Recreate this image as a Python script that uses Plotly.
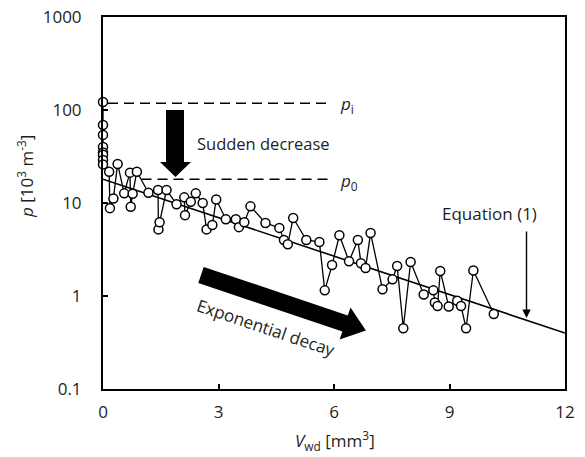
import math
import plotly.graph_objects as go

# measured data: V_wd [mm3] vs p [10^3 m^-3]
v_wd = [0, 0, 0, 0, 0, 0, 0, 0,
        0.16, 0.18, 0.27, 0.38, 0.55, 0.70, 0.72, 0.77, 0.88, 1.18,
        1.43, 1.44, 1.47, 1.65, 1.91, 2.11, 2.13, 2.28, 2.41, 2.59,
        2.69, 2.84, 2.94, 3.19, 3.45, 3.53, 3.67, 3.83, 4.22, 4.58,
        4.70, 4.80, 4.94, 5.28, 5.62, 5.76, 5.95, 6.14, 6.39, 6.62,
        6.70, 6.82, 6.95, 7.26, 7.52, 7.64, 7.80, 7.99, 8.33, 8.58,
        8.62, 8.69, 8.76, 8.98, 9.20, 9.30, 9.43, 9.62, 10.15]
p_meas = [122, 69, 54, 40, 35, 33, 29, 26,
          21.7, 8.8, 11.2, 26.3, 12.7, 21.2, 9.1, 12.6, 21.7, 12.9,
          13.8, 5.2, 6.2, 13.8, 9.7, 11.5, 7.4, 10.3, 12.7, 10.0,
          5.2, 5.8, 10.9, 6.7, 6.7, 5.5, 6.2, 9.2, 6.1, 5.4,
          4.0, 3.6, 6.9, 4.0, 3.8, 1.15, 2.15, 4.5, 2.36, 4.0,
          2.25, 2.0, 4.75, 1.18, 1.51, 2.1, 0.45, 2.32, 1.04, 1.15,
          0.85, 0.78, 1.86, 0.77, 0.89, 0.78, 0.45, 1.88, 0.64]

# Equation (1) fit, straight on the log axis
fit_x = [0, 12]
fit_p = [18, 0.4]

p_i = 118
p_0 = 18
pi_x = [0.13, 5.9]
p0_x = [1.0, 5.9]

x_ticks = [0, 3, 6, 9, 12]
y_ticks = [0.1, 1, 10, 100, 1000]
y_ticktext = ["0.1", "1", "10", "100", "1000"]

W, H = 585, 457
L, R, T, B = 103, 20, 17, 68
PW, PH = W - L - R, H - T - B
FONT = "Open Sans, Noto Sans, sans-serif"
TXT = "#1e1e1e"


def px2paper(px, py):
    return (px - L) / PW, (H - B - py) / PH


def poly_path(points):
    pts = [px2paper(a, b) for a, b in points]
    return "M " + " L ".join(f"{a:.4f},{b:.4f}" for a, b in pts) + " Z"


def block_arrow(sx, sy, ang, shaft_len, head_len, shaft_w, head_w):
    c, s = math.cos(math.radians(ang)), math.sin(math.radians(ang))
    nx, ny = -s, c
    def pt(along, across):
        return sx + along * c + across * nx, sy + along * s + across * ny
    return [pt(0, -shaft_w / 2), pt(shaft_len, -shaft_w / 2), pt(shaft_len, -head_w / 2),
            pt(shaft_len + head_len, 0), pt(shaft_len, head_w / 2),
            pt(shaft_len, shaft_w / 2), pt(0, shaft_w / 2)]


fig = go.Figure()

fig.add_trace(go.Scatter(x=fit_x, y=fit_p, mode="lines",
                         line=dict(color="black", width=1.6), hoverinfo="skip"))
fig.add_trace(go.Scatter(x=pi_x, y=[p_i, p_i], mode="lines",
                         line=dict(color="black", width=1.5, dash="10px,6px")))
fig.add_trace(go.Scatter(x=p0_x, y=[p_0, p_0], mode="lines",
                         line=dict(color="black", width=1.5, dash="10px,6px")))
fig.add_trace(go.Scatter(x=v_wd, y=p_meas, mode="lines+markers", cliponaxis=False,
                         line=dict(color="black", width=1.3),
                         marker=dict(symbol="circle", size=9, color="white",
                                     line=dict(color="black", width=1.5))))

# block arrows
down = [(166, 110), (184, 110), (184, 162), (191, 162), (175.5, 177), (160, 162), (166, 162)]
diag = block_arrow(201, 275, 18.6, 152, 22, 17, 34)
for poly in (down, diag):
    fig.add_shape(type="path", path=poly_path(poly), xref="paper", yref="paper",
                  fillcolor="black", line=dict(width=0))

annots = []
def add_text(text, px, py, size=17, angle=0, xanchor="center"):
    x, y = px2paper(px, py)
    annots.append(dict(text=text, x=x, y=y, xref="paper", yref="paper", showarrow=False,
                       textangle=angle, xanchor=xanchor, yanchor="middle",
                       font=dict(family=FONT, size=size, color=TXT)))

add_text("Sudden decrease", 263, 143, size=16.5)
add_text("Exponential decay", 266, 327, angle=18.6)
add_text("Equation (1)", 489, 213)
add_text("<i>p</i><sub>i</sub>", 338, 104, xanchor="left")
add_text("<i>p</i><sub>0</sub>", 338, 181, xanchor="left")
add_text("<i>p</i> [10<sup>3</sup> m<sup>-3</sup>]", 26, 177, angle=-90)
add_text("<i>V</i><sub>wd</sub> [mm<sup>3</sup>]", 335, 440)

# thin arrow pointing at the fit line
annots.append(dict(x=11, y=math.log10(0.58), xref="x", yref="y", text="", showarrow=True,
                   arrowhead=2, arrowsize=1.2, arrowwidth=1.4, arrowcolor="black",
                   ax=0, ay=-88))

axis_common = dict(showline=True, linecolor="black", linewidth=2, mirror=True,
                   ticks="inside", ticklen=5, tickwidth=1.5, tickcolor="black",
                   showgrid=False, zeroline=False, automargin=False,
                   tickfont=dict(family=FONT, size=17, color=TXT))

fig.update_xaxes(range=[0, 12], tickvals=x_ticks, ticklabelstandoff=7, **axis_common)
fig.update_yaxes(type="log", range=[-1, 3], tickvals=y_ticks, ticktext=y_ticktext,
                 ticklabelstandoff=16, **axis_common)

fig.update_layout(width=W, height=H, margin=dict(l=L, r=R, t=T, b=B),
                  plot_bgcolor="white", paper_bgcolor="white", showlegend=False,
                  annotations=annots)

fig.write_html("out.html", config={"displayModeBar": False},
               post_script="document.body.style.margin='0';document.body.style.overflow='hidden';")
